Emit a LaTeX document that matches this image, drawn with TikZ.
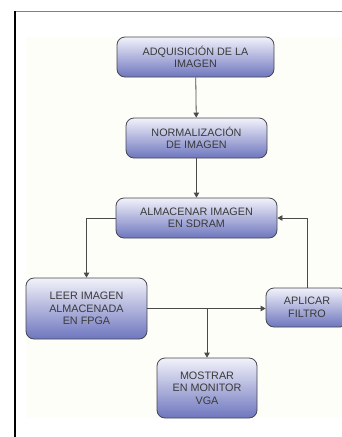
\documentclass[tikz,border=0pt]{standalone}
\usepackage{fontspec}
\setmainfont{Liberation Sans}
\usepackage{tikz}
\usetikzlibrary{arrows.meta}

\definecolor{borde}{HTML}{45464F}
\definecolor{arriba}{HTML}{F2F2FA}
\definecolor{abajo}{HTML}{6E76BE}
\definecolor{texto}{HTML}{3A3A3A}
\definecolor{linea}{HTML}{4A4A4A}
\definecolor{crema}{HTML}{FEFEF8}

\begin{document}
\begin{tikzpicture}[x=1pt,y=-1pt,
	caja/.style={draw=borde,line width=0.8pt,rounded corners=8pt,top color=arriba,bottom color=abajo,
		align=center,text=texto,inner sep=0pt,font=\fontsize{10.8}{12.5}\selectfont},
	flecha/.style={draw=linea,line width=0.8pt,-{Triangle[length=5pt,width=5.5pt]}}]
		%Fondo
		\useasboundingbox (0,0) rectangle (342,437);
		\fill[white] (0,0) rectangle (342,437);
		\fill[crema] (26,37) rectangle (342,418);
		\draw[gray,line width=1pt] (15,11) -- (342,11);
		\draw[black,line width=2pt] (15,11) -- (15,437);

		%Nodos
		\node [caja,minimum width=157pt,minimum height=40pt] (adq) at (195.5,57) {ADQUISICIÓN DE LA\\IMAGEN};
		\node [caja,minimum width=141pt,minimum height=40pt] (norm) at (196.5,138) {NORMALIZACIÓN\\DE IMAGEN};
		\node [caja,minimum width=161pt,minimum height=40pt] (alm) at (196.5,218) {ALMACENAR IMAGEN\\EN SDRAM};
		\node [caja,minimum width=121pt,minimum height=61pt] (leer) at (86.5,308.5) {LEER IMAGEN\\ALMACENADA\\EN FPGA};
		\node [caja,minimum width=82pt,minimum height=39pt] (aplicar) at (307,307.5) {APLICAR\\FILTRO};
		\node [caja,minimum width=100pt,minimum height=60pt] (mostrar) at (207,388) {MOSTRAR\\EN MONITOR\\VGA};

		%Arcos
		\draw[flecha] (adq)--(norm);
		\draw[flecha] (norm)--(alm);
		\draw[flecha] (alm.west) -| (leer.north);
		\draw[flecha] (leer.east) -- (leer.east -| aplicar.west);
		\coordinate (rama) at (leer.east -| mostrar.north);
		\draw[flecha] (rama) -- (mostrar.north);
		\draw[flecha] (aplicar.north) |- (alm.east);
\end{tikzpicture}
\end{document}
